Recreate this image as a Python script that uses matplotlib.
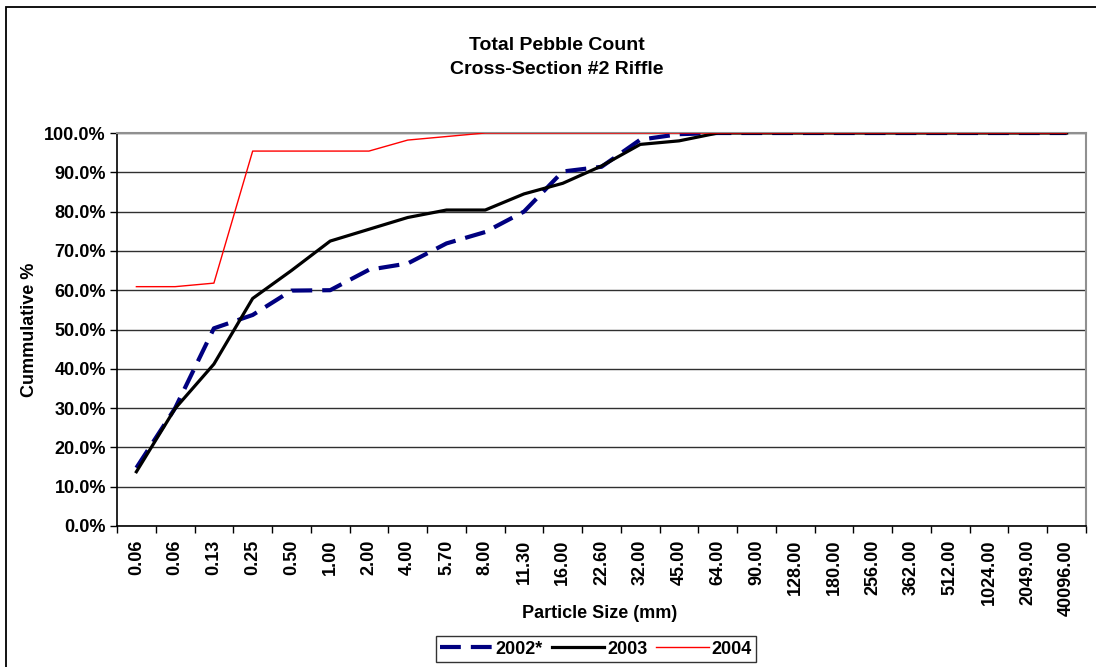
import matplotlib
matplotlib.use("Agg")
import matplotlib.pyplot as plt
import numpy as np
from matplotlib.patches import Rectangle
from matplotlib.ticker import FixedLocator, FuncFormatter

# Particle size classes (mm) and cumulative percent finer per survey year
sizes = ["0.06", "0.06", "0.13", "0.25", "0.50", "1.00", "2.00", "4.00", "5.70",
         "8.00", "11.30", "16.00", "22.60", "32.00", "45.00", "64.00", "90.00",
         "128.00", "180.00", "256.00", "362.00", "512.00", "1024.00", "2049.00",
         "40096.00"]

pct_2002 = [14.8, 30.0, 50.3, 53.7, 59.9, 60.0, 65.2, 66.8, 71.9, 74.8, 80.0,
            90.2, 91.4, 98.3, 99.7, 100, 100, 100, 100, 100, 100, 100, 100, 100, 100]
pct_2003 = [13.8, 29.9, 41.2, 57.9, 65.0, 72.5, 75.5, 78.5, 80.4, 80.4, 84.5,
            87.2, 91.6, 97.1, 98.0, 100, 100, 100, 100, 100, 100, 100, 100, 100, 100]
pct_2004 = [60.9, 60.9, 61.8, 95.4, 95.4, 95.4, 95.4, 98.2, 99.1, 100, 100,
            100, 100, 100, 100, 100, 100, 100, 100, 100, 100, 100, 100, 100, 100]

plt.rcParams["font.family"] = ["Liberation Sans", "DejaVu Sans"]
plt.rcParams["font.weight"] = "bold"

W, H = 1096, 667
fig = plt.figure(figsize=(W / 100, H / 100), dpi=100)
fig.patch.set_facecolor("white")

# outer chart frame
fig.patches.append(Rectangle((6 / W, -0.05), 1.2, 1 - 7 / H + 0.05,
                             transform=fig.transFigure, fill=False,
                             edgecolor="black", linewidth=1.3, zorder=0))

left, right, top, bottom = 117, 1086, 133, 526
ax = fig.add_axes([left / W, 1 - bottom / H, (right - left) / W, (bottom - top) / H])

x = np.arange(len(sizes))
ax.plot(x, pct_2002, color="#000080", linewidth=3.0, linestyle=(0, (5.0, 2.4)),
        label="2002*", zorder=3, solid_capstyle="butt", dash_capstyle="butt")
ax.plot(x, pct_2003, color="black", linewidth=2.3, label="2003", zorder=4)
ax.plot(x, pct_2004, color="#FF0000", linewidth=1.0, label="2004", zorder=5)

ax.set_xlim(-0.5, len(sizes) - 0.5)
ax.set_ylim(0, 100)

# category labels at centres, tick marks on category boundaries
ax.set_xticks(x)
ax.set_xticklabels(sizes, rotation=90, fontsize=13, fontweight="bold")
ax.xaxis.set_minor_locator(FixedLocator(np.arange(-0.5, len(sizes), 1.0)))
ax.tick_params(axis="x", which="major", length=0, pad=10)
ax.tick_params(axis="x", which="minor", length=5, width=1, color="black", direction="out")

ax.set_yticks(np.arange(0, 101, 10))
ax.yaxis.set_major_formatter(FuncFormatter(lambda v, p: f"{v:.1f}%"))
ax.tick_params(axis="y", length=5, width=1, color="black", direction="out",
               labelsize=13, pad=3)
for lbl in ax.get_yticklabels():
    lbl.set_fontweight("bold")

ax.grid(axis="y", color="#303030", linewidth=1.0, zorder=1)
ax.set_axisbelow(True)

for side in ("left", "bottom"):
    ax.spines[side].set_color("black")
    ax.spines[side].set_linewidth(1.2)
for side in ("top", "right"):
    ax.spines[side].set_color("#909090")
    ax.spines[side].set_linewidth(1.5)

fig.text(557 / W, 1 - 45 / H, "Total Pebble Count", ha="center", va="center",
         fontsize=14, fontweight="bold")
fig.text(557 / W, 1 - 70 / H, "Cross-Section #2 Riffle", ha="center", va="center",
         fontsize=14, fontweight="bold")
fig.text(29 / W, 1 - 330 / H, "Cummulative %", ha="center", va="center",
         rotation=90, fontsize=13, fontweight="bold")
fig.text(600 / W, 1 - 614 / H, "Particle Size (mm)", ha="center", va="center",
         fontsize=13, fontweight="bold")

leg = fig.legend(loc="center", bbox_to_anchor=(596 / W, 1 - 649 / H), ncol=3,
                 frameon=True, fancybox=False, shadow=False, handlelength=2.9,
                 handletextpad=0.15, columnspacing=0.5, borderpad=0.25,
                 borderaxespad=0, prop={"size": 13, "weight": "bold"})
leg.get_frame().set_edgecolor("black")
leg.get_frame().set_linewidth(1.0)

fig.savefig("out.png", dpi=100)
